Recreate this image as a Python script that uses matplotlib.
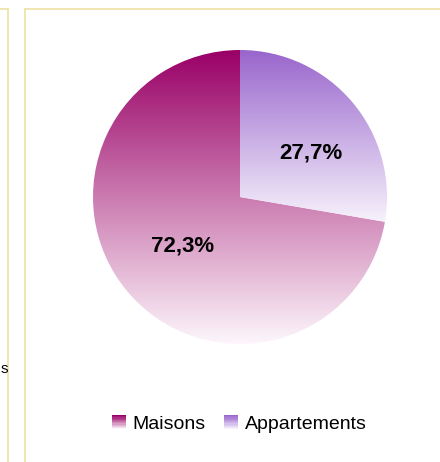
import numpy as np
import matplotlib
matplotlib.use('Agg')
import matplotlib.pyplot as plt
from matplotlib.colors import LinearSegmentedColormap, to_rgb
from matplotlib.patches import Rectangle
from matplotlib.legend_handler import HandlerBase

plt.rcParams['font.family'] = ['Liberation Sans', 'DejaVu Sans']

labels = ['Maisons', 'Appartements']
values = [72.3, 27.7]
pct_text = ['72,3%', '27,7%']
top_colors = ['#990066', '#9966cc']
bottom_colors = ['#fdf6fb', '#f7f2fc']


def make_cmap(c1, c2):
    return LinearSegmentedColormap.from_list('g', [c2, c1])


class GradientHandler(HandlerBase):
    def __init__(self, c1, c2):
        super().__init__()
        self.c1 = np.array(to_rgb(c1))
        self.c2 = np.array(to_rgb(c2))

    def create_artists(self, legend, orig_handle, xdescent, ydescent,
                       width, height, fontsize, trans):
        n = 12
        arts = []
        side = min(width, height)
        x0 = -xdescent + (width - side) / 2
        y0 = -ydescent + (height - side) / 2
        for i in range(n):
            f = i / (n - 1)
            col = self.c1 * (1 - f) + self.c2 * f
            r = Rectangle((x0, y0 + side * (n - 1 - i) / n), side, side / n,
                          facecolor=col, edgecolor='none', transform=trans)
            arts.append(r)
        return arts


fig = plt.figure(figsize=(4.4, 4.62), dpi=100)

# panel borders
W, H = 440.0, 462.0
bc = '#efe4aa'
fig.add_artist(plt.Line2D([0, 7.5 / W], [1 - 8.5 / H, 1 - 8.5 / H], color=bc, lw=1.3))
fig.add_artist(plt.Line2D([7.5 / W, 7.5 / W], [0, 1 - 8.5 / H], color=bc, lw=1.3))
fig.add_artist(plt.Line2D([24.5 / W, 1], [1 - 8.5 / H, 1 - 8.5 / H], color=bc, lw=1.3))
fig.add_artist(plt.Line2D([24.5 / W, 24.5 / W], [0, 1 - 8.5 / H], color=bc, lw=1.3))
fig.text(0.5 / W, 1 - 369 / H, 's', fontsize=11, va='center', ha='left')

ax = fig.add_axes([(240 - 147) / W, 1 - (197 + 147) / H, 294 / W, 294 / H])
wedges, _ = ax.pie(values, startangle=90, counterclock=True, radius=1,
                   wedgeprops=dict(facecolor='none', edgecolor='none'))
ax.axis('off')

grad = np.linspace(0, 1, 256).reshape(-1, 1)
for w, c1, c2 in zip(wedges, top_colors, bottom_colors):
    ext = w.get_path().get_extents()
    im = ax.imshow(grad, cmap=make_cmap(c1, c2), aspect='auto',
                   extent=[ext.x0, ext.x1, ext.y0, ext.y1], origin='lower',
                   interpolation='bilinear')
    im.set_clip_path(w)

ax.set_xlim(-1.0, 1.0)
ax.set_ylim(-1.0, 1.0)

# percentage labels
ax.text(-0.39, -0.33, pct_text[0], fontsize=16, fontweight='bold', ha='center', va='center')
ax.text(0.48, 0.30, pct_text[1], fontsize=16, fontweight='bold', ha='center', va='center')

handler_map = {wedges[i]: GradientHandler(top_colors[i], bottom_colors[i]) for i in range(2)}
fig.legend(wedges, labels, loc='center', bbox_to_anchor=(239 / W, 1 - 424 / H),
           ncol=2, frameon=False, fontsize=14, handlelength=0.75, handleheight=0.75,
           handletextpad=0.35, columnspacing=0.9, handler_map=handler_map)

fig.savefig('out.png', dpi=100)
